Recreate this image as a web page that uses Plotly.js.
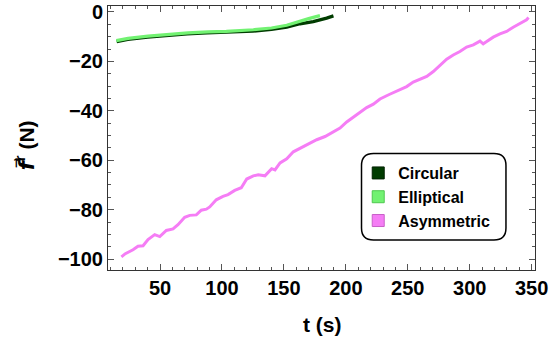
<!DOCTYPE html>
<html>
<head>
<meta charset="utf-8">
<script src="https://cdn.plot.ly/plotly-3.0.1.min.js"></script>
<style>html,body{margin:0;padding:0;background:#fff;}#chart{width:554px;height:341px;}</style>
</head>
<body>
<div id="chart"></div>
<script>
// Series names
const seriesNames = ["Circular", "Elliptical", "Asymmetric"];

// Circular (dark green)
const circT = [15, 24, 40, 56, 72, 88, 103, 125, 140, 152.3, 163, 173.7, 184.5, 190];
const circF = [-12.0, -11.1, -10.2, -9.4, -8.9, -8.5, -8.2, -7.8, -7.1, -6.2, -4.8, -3.9, -2.5, -1.6];

// Elliptical (light green)
const ellT = [14.7, 24.2, 40.3, 56.5, 72.6, 88.7, 103.5, 125.3, 140, 152.3, 158, 163, 170, 176, 179.1];
const ellF = [-11.6, -10.7, -9.8, -9.0, -8.5, -8.1, -7.9, -7.2, -6.5, -5.4, -4.5, -3.6, -2.7, -1.9, -1.5];

// Asymmetric (pink)
const asymT = [18.8, 22, 28.2, 32.2, 36.3, 40.3, 45.7, 49.8, 55.1, 60.5, 64.5, 69.9, 74, 79.3, 83.3, 87.4, 90.1, 95.4, 100.8, 104.9, 110.3, 115.6, 120, 125.3, 129.3, 134.7, 140.1, 142.8, 146.9, 152.3, 157.6, 164.4, 171.1, 176.5, 183.2, 189.9, 195.3, 200.7, 206, 211.4, 216.8, 222.2, 227.6, 235, 243.7, 249.1, 254.4, 259.8, 265.3, 270.6, 276, 281.4, 286.7, 292.1, 297.5, 302.9, 308.3, 310.9, 313.7, 319, 324.4, 329.8, 335.1, 340.6, 345.9, 347.5];
const asymF = [-99.1, -97.8, -96.2, -94.8, -94.6, -92.1, -90.1, -90.9, -88.4, -87.8, -86.1, -83.1, -82.3, -82.1, -80.2, -79.8, -78.9, -76, -74.6, -73.9, -72.2, -71.1, -67.6, -66.3, -65.9, -66.3, -63.4, -63.9, -61.1, -59.4, -56.6, -54.8, -53.1, -51.7, -50.4, -48.4, -47, -44.5, -42.6, -40.3, -38.7, -37.3, -35.2, -33.4, -31.5, -30.2, -28.4, -27.2, -26.1, -24.1, -21.4, -19.1, -17.4, -16, -14.2, -13.3, -11.8, -12.9, -12, -10.2, -8.9, -7.9, -6.2, -4.6, -3.2, -2.3];

// Tick values
const xTicks = [50, 100, 150, 200, 250, 300, 350];
const yTicks = [0, -20, -40, -60, -80, -100];

// Axis titles
const xTitle = "t (s)";
const yTitle = "<i><span style=\"font-family:'DejaVu Sans'\">f\u20D7</span></i><sup>r</sup> (N)";

const lineColors = ["#003c00", "#72f272", "#f57df5"];
const swatchBorders = ["#002200", "#4fc84f", "#c860c8"];

const FONT = "'Liberation Sans', Arial, sans-serif";

const traces = [
  {x: circT, y: circF, mode: "lines", line: {color: lineColors[0], width: 3.2}, showlegend: false},
  {x: ellT, y: ellF, mode: "lines", line: {color: lineColors[1], width: 3.2}, showlegend: false},
  {x: asymT, y: asymF, mode: "lines", line: {color: lineColors[2], width: 3}, showlegend: false}
];
seriesNames.forEach((n, i) => {
  traces.push({x: [null], y: [null], mode: "markers", name: n,
    marker: {symbol: "square", size: 12, color: lineColors[i], line: {color: swatchBorders[i], width: 1}}});
});

// rounded legend box in paper coords
const bx0 = 0.5937, bx1 = 0.932, by0 = 0.1136, by1 = 0.4413;
const rx = 12 / 427, ry = 12 / 264;
const boxPath = `M ${bx0+rx},${by0} L ${bx1-rx},${by0} Q ${bx1},${by0} ${bx1},${by0+ry} L ${bx1},${by1-ry} Q ${bx1},${by1} ${bx1-rx},${by1} L ${bx0+rx},${by1} Q ${bx0},${by1} ${bx0},${by1-ry} L ${bx0},${by0+ry} Q ${bx0},${by0} ${bx0+rx},${by0} Z`;

const layout = {
  width: 554, height: 341,
  margin: {l: 108, r: 19, t: 6, b: 71},
  paper_bgcolor: "#fff", plot_bgcolor: "#fff",
  xaxis: {
    range: [8, 352.7], tickmode: "array", tickvals: xTicks,
    showgrid: false, zeroline: false, showline: true, linecolor: "#333", linewidth: 1,
    mirror: "allticks", ticks: "inside", ticklen: 6, tickwidth: 1, tickcolor: "#555",
    tickfont: {family: FONT, size: 20, weight: 700, color: "#000"},
    minor: {dtick: 10, tick0: 0, ticks: "inside", ticklen: 3, tickcolor: "#555", showgrid: false}
  },
  yaxis: {
    range: [-104.4, 2.4], tickmode: "array", tickvals: yTicks,
    showgrid: false, zeroline: false, showline: true, linecolor: "#333", linewidth: 1,
    mirror: "allticks", ticks: "inside", ticklen: 6, tickwidth: 1, tickcolor: "#555",
    tickfont: {family: FONT, size: 20, weight: 700, color: "#000"},
    minor: {dtick: 5, tick0: 0, ticks: "inside", ticklen: 3, tickcolor: "#555", showgrid: false}
  },
  annotations: [
    {xref: "paper", yref: "paper", x: 0.5035, y: -0.208, text: xTitle, showarrow: false,
      xanchor: "center", yanchor: "middle", font: {family: FONT, size: 21, weight: 700, color: "#000"}},
    {xref: "paper", yref: "paper", x: -0.194, y: 0.473, text: yTitle, showarrow: false, textangle: -90,
      xanchor: "center", yanchor: "middle", font: {family: FONT, size: 21, weight: 700, color: "#000"}}
  ],
  legend: {x: 0.586, y: 0.4317, xanchor: "left", yanchor: "top", bgcolor: "rgba(0,0,0,0)", borderwidth: 0,
    font: {family: FONT, size: 16, weight: 700, color: "#000"}},
  shapes: [{type: "path", xref: "paper", yref: "paper", path: boxPath, line: {color: "#000", width: 1.5}, fillcolor: "rgba(0,0,0,0)"}],
  showlegend: true
};

Plotly.newPlot("chart", traces, layout, {staticPlot: true, displayModeBar: false});
</script>
</body>
</html>
